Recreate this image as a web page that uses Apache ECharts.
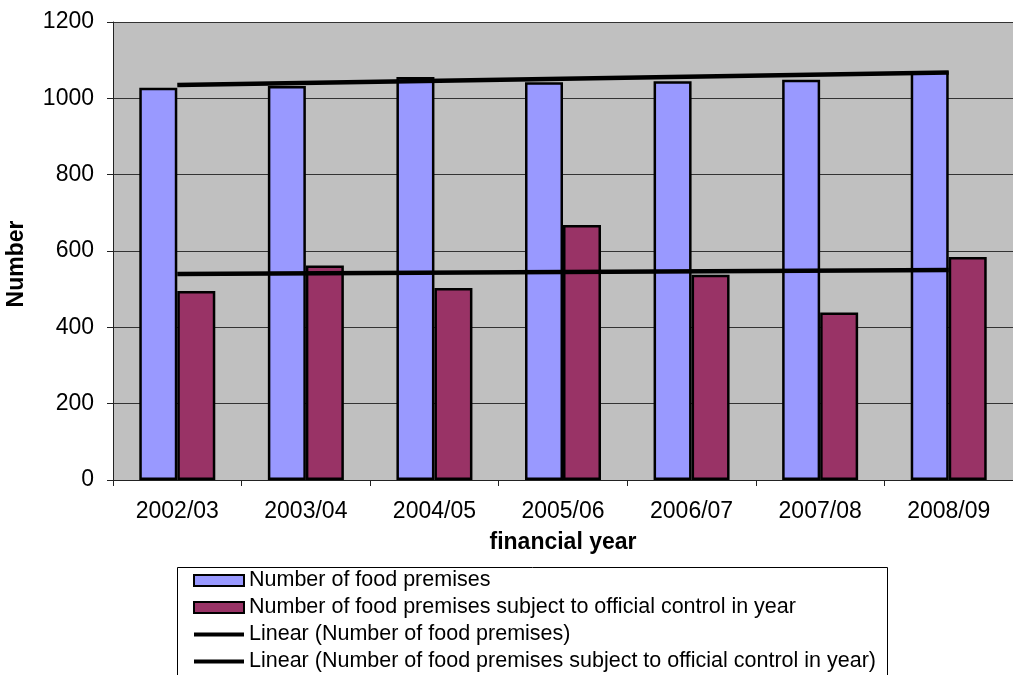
<!DOCTYPE html>
<html>
<head>
<meta charset="utf-8">
<title>Food premises</title>
<script src="https://cdn.jsdelivr.net/npm/echarts@6/dist/echarts.min.js"></script>
<style>
  html, body { margin: 0; padding: 0; background: #fff; }
  #chart { width: 1013px; height: 675px; }
</style>
</head>
<body>
<div id="chart"></div>
<script>
// values
const years = ['2002/03', '2003/04', '2004/05', '2005/06', '2006/07', '2007/08', '2008/09'];
const premises = [1028, 1032, 1056, 1042, 1045, 1049, 1071];
const controlled = [495, 562, 503, 668, 538, 439, 584];
// trend lines: only the two end points are drawn, joined straight
const trendPremises = [1035, null, null, null, null, null, 1068];
const trendControlled = [540, null, null, null, null, null, 550];
const yTicks = { min: 0, max: 1200, interval: 200 };

const names = [
  'Number of food premises',
  'Number of food premises subject to official control in year',
  'Linear (Number of food premises)',
  'Linear (Number of food premises subject to official control in year)'
];

const font = '"Liberation Sans", Arial, sans-serif';
// thick flat line used as legend key for the trend lines
const lineIcon = 'path://M0,0 L50,0 L50,4 L0,4 Z';

const chart = echarts.init(document.getElementById('chart'), null, { renderer: 'canvas' });

chart.setOption({
  animation: false,
  backgroundColor: '#fff',
  textStyle: { fontFamily: font, color: '#000' },
  grid: {
    left: 113,
    top: 22,
    right: -9,
    bottom: 195,
    show: true,
    backgroundColor: '#c0c0c0',
    borderWidth: 0
  },
  graphic: [
    {
      // legend frame, runs past the bottom edge like the original
      type: 'rect',
      shape: { x: 177.5, y: 567.5, width: 710, height: 200 },
      style: { fill: '#fff', stroke: '#000', lineWidth: 1 },
      z: -1
    },
    {
      type: 'text',
      x: 17,
      y: 264,
      rotation: Math.PI / 2,
      style: {
        text: 'Number',
        font: 'bold 23px ' + font,
        fill: '#000',
        align: 'center',
        verticalAlign: 'middle'
      }
    }
  ],
  legend: {
    orient: 'vertical',
    left: 193,
    top: 567,
    padding: 0,
    itemGap: 0,
    itemWidth: 50,
    itemHeight: 11,
    symbolKeepAspect: true,
    selectedMode: false,
    textStyle: { fontSize: 21.5, lineHeight: 27, color: '#000', fontFamily: font },
    data: [
      { name: names[0], icon: 'rect' },
      { name: names[1], icon: 'rect' },
      { name: names[2], icon: lineIcon, itemStyle: { color: '#000', borderWidth: 0 } },
      { name: names[3], icon: lineIcon, itemStyle: { color: '#000', borderWidth: 0 } }
    ]
  },
  xAxis: {
    type: 'category',
    data: years,
    name: 'financial year',
    nameLocation: 'middle',
    nameGap: 51,
    nameTextStyle: { fontSize: 23, fontWeight: 'bold', color: '#000' },
    axisLine: { lineStyle: { color: '#222', width: 1 } },
    axisTick: { show: true, length: 6, lineStyle: { color: '#222' } },
    axisLabel: { fontSize: 23, color: '#000', margin: 20 }
  },
  yAxis: {
    type: 'value',
    min: yTicks.min,
    max: yTicks.max,
    interval: yTicks.interval,
    axisLine: { show: true, lineStyle: { color: '#222', width: 1 } },
    axisTick: { show: true, length: 6, lineStyle: { color: '#222' } },
    axisLabel: { fontSize: 23, color: '#000', margin: 19, formatter: v => String(v) },
    splitLine: { lineStyle: { color: '#333', width: 1 } }
  },
  series: [
    {
      name: names[0],
      type: 'bar',
      data: premises,
      barWidth: 38,
      barGap: '0%',
      itemStyle: { color: '#9999ff', borderColor: '#000', borderWidth: 2.5 }
    },
    {
      name: names[1],
      type: 'bar',
      data: controlled,
      barWidth: 38,
      barGap: '0%',
      itemStyle: { color: '#993366', borderColor: '#000', borderWidth: 2.5 }
    },
    {
      name: names[2],
      type: 'line',
      data: trendPremises,
      connectNulls: true,
      symbol: 'none',
      lineStyle: { color: '#000', width: 4.5 },
      itemStyle: { color: '#000' }
    },
    {
      name: names[3],
      type: 'line',
      data: trendControlled,
      connectNulls: true,
      symbol: 'none',
      lineStyle: { color: '#000', width: 4.5 },
      itemStyle: { color: '#000' }
    }
  ]
});
</script>
</body>
</html>
